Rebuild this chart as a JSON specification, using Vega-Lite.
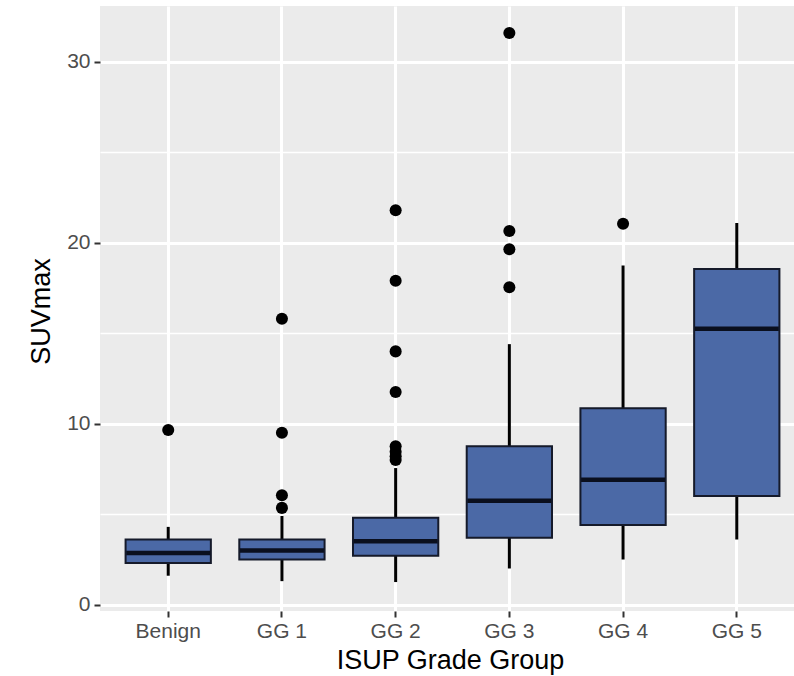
{
  "$schema": "https://vega.github.io/schema/vega-lite/v6.json",
  "width": 694,
  "height": 605,
  "autosize": {"type": "none"},
  "padding": {"left": 100, "top": 6, "right": 0, "bottom": 65},
  "background": "white",
  "config": {
    "view": {"stroke": null, "fill": "#EBEBEB"},
    "font": "Liberation Sans",
    "axis": {
      "domain": false,
      "tickColor": "#333333",
      "tickWidth": 2,
      "tickSize": 6,
      "labelFont": "Liberation Sans",
      "labelFontSize": 21,
      "labelColor": "#4D4D4D",
      "titleFont": "Liberation Sans",
      "titleFontSize": 27,
      "titleFontWeight": "normal",
      "titleColor": "#000000",
      "gridColor": "#FFFFFF"
    }
  },
  "datasets": {
    "boxes": [
      {"group": "Benign", "lower": 1.6, "q1": 2.3, "median": 2.85, "q3": 3.6, "upper": 4.3},
      {"group": "GG 1", "lower": 1.3, "q1": 2.5, "median": 3.0, "q3": 3.6, "upper": 4.9},
      {"group": "GG 2", "lower": 1.25, "q1": 2.7, "median": 3.5, "q3": 4.8, "upper": 7.55},
      {"group": "GG 3", "lower": 2.0, "q1": 3.7, "median": 5.75, "q3": 8.75, "upper": 14.4},
      {"group": "GG 4", "lower": 2.5, "q1": 4.4, "median": 6.9, "q3": 10.85, "upper": 18.75},
      {"group": "GG 5", "lower": 3.6, "q1": 6.0, "median": 15.25, "q3": 18.55, "upper": 21.1}
    ],
    "outliers": [
      {"group": "Benign", "value": 9.65},
      {"group": "GG 1", "value": 15.8},
      {"group": "GG 1", "value": 9.5},
      {"group": "GG 1", "value": 6.05},
      {"group": "GG 1", "value": 5.35},
      {"group": "GG 2", "value": 21.8},
      {"group": "GG 2", "value": 17.9},
      {"group": "GG 2", "value": 14.0},
      {"group": "GG 2", "value": 11.75},
      {"group": "GG 2", "value": 8.75},
      {"group": "GG 2", "value": 8.45},
      {"group": "GG 2", "value": 8.2},
      {"group": "GG 2", "value": 8.0},
      {"group": "GG 3", "value": 31.6},
      {"group": "GG 3", "value": 20.65},
      {"group": "GG 3", "value": 19.65},
      {"group": "GG 3", "value": 17.55},
      {"group": "GG 4", "value": 21.05}
    ]
  },
  "encoding": {
    "x": {
      "field": "group",
      "type": "nominal",
      "sort": ["Benign", "GG 1", "GG 2", "GG 3", "GG 4", "GG 5"],
      "scale": {"type": "band", "paddingInner": 0, "paddingOuter": 0.1, "range": [0, 705]},
      "axis": {
        "title": "ISUP Grade Group",
        "labelAngle": 0,
        "labelPadding": 3,
        "grid": true,
        "gridWidth": 3,
        "titleX": 350,
        "titleY": 57,
        "titleBaseline": "alphabetic",
        "titleAnchor": "middle"
      }
    }
  },
  "layer": [
    {
      "data": {"name": "boxes"},
      "mark": {"type": "rule", "color": "#000000", "strokeWidth": 3},
      "encoding": {
        "y": {
          "field": "lower",
          "type": "quantitative",
          "scale": {"domain": [-0.35, 33.09], "nice": false, "zero": false},
          "axis": {
            "title": "SUVmax",
            "values": [0, 5, 10, 15, 20, 25, 30],
            "labelExpr": "datum.value % 10 === 0 ? datum.label : ''",
            "tickOpacity": {"condition": {"test": "datum.value % 10 !== 0", "value": 0}, "value": 1},
            "grid": true,
            "gridWidth": {"condition": {"test": "datum.value % 10 === 0", "value": 3}, "value": 1.5},
            "labelPadding": 4,
            "titleAngle": -90,
            "titleX": -59,
            "titleY": 305,
            "titleAlign": "center",
            "titleBaseline": "middle"
          }
        },
        "y2": {"field": "upper"}
      }
    },
    {
      "data": {"name": "boxes"},
      "mark": {"type": "bar", "fill": "#4B69A6", "stroke": "#151a2a", "strokeWidth": 2, "width": {"band": 0.75}},
      "encoding": {
        "y": {"field": "q1", "type": "quantitative"},
        "y2": {"field": "q3"}
      }
    },
    {
      "data": {"name": "boxes"},
      "mark": {"type": "tick", "color": "#0a0f1e", "thickness": 4.5, "size": 84, "opacity": 1},
      "encoding": {
        "y": {"field": "median", "type": "quantitative"}
      }
    },
    {
      "data": {"name": "outliers"},
      "mark": {"type": "point", "filled": true, "color": "#000000", "size": 145, "opacity": 1},
      "encoding": {
        "y": {"field": "value", "type": "quantitative"}
      }
    }
  ]
}
